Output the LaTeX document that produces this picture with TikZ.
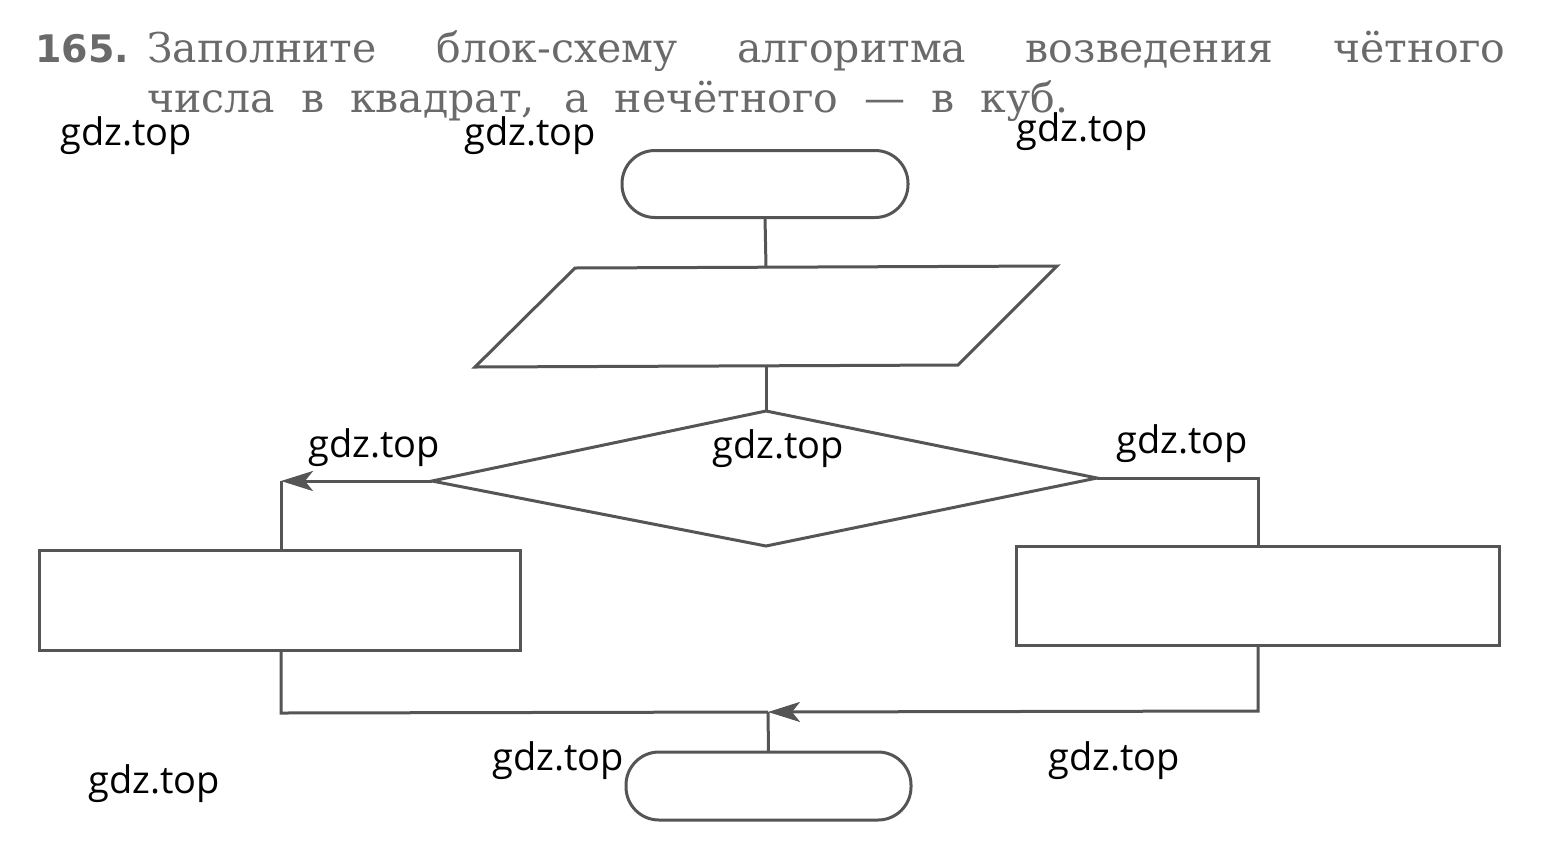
\documentclass[tikz,border=0pt]{standalone}
\usepackage{fontspec}
\setmainfont{DejaVu Serif}
\newfontfamily\wmfont{Open Sans}
\newfontfamily\numfont{DejaVu Sans}
\usetikzlibrary{arrows.meta}
\definecolor{ink}{HTML}{555555}
\definecolor{txt}{HTML}{6A6A6A}
\begin{document}
\begin{tikzpicture}[x=1pt,y=-1pt,
  ln/.style={draw=ink,line width=3pt},
  blk/.style={ln,rectangle,inner sep=0pt,outer sep=0pt},
  term/.style={blk,rounded corners=33pt},
  wm/.style={anchor=base west,inner sep=0pt,font=\wmfont\fontsize{38}{44}\selectfont},
  ttl/.style={anchor=base west,inner sep=0pt,text=txt,font=\fontsize{41}{48}\selectfont},
  arr/.style={ln,-{Stealth[length=32pt,width=20pt,inset=8pt]}}]
\useasboundingbox (0,0) rectangle (1554,847);
% title
\node[anchor=base west,inner sep=0pt,text=txt,font=\numfont\bfseries\fontsize{38}{44}\selectfont] (num) at (35,62) {165.};
\node[ttl] (l1) at (147,62) {\makebox[1358pt][s]{Заполните блок-схему алгоритма возведения чётного}};
\node[ttl] (l2) at (147,112) {\makebox[921pt][s]{числа в квадрат, а нечётного — в куб.}};
% start terminal
\node[term,minimum width=286pt,minimum height=67pt] (start) at (765,184) {};
% parallelogram
\coordinate (pA) at (575,268);
\coordinate (pB) at (1057,266);
\coordinate (pC) at (958,365);
\coordinate (pD) at (475,367);
\coordinate (pTop) at (766,267);
\coordinate (pBot) at (766,366);
\draw[ln] (pA) -- (pB) -- (pC) -- (pD) -- cycle;
\draw[ln] (start.south) -- (pTop);
% diamond
\coordinate (dT) at (766,411);
\coordinate (dL) at (432,481);
\coordinate (dB) at (766,546);
\coordinate (dR) at (1097,478);
\draw[ln] (dT) -- (dR) -- (dB) -- (dL) -- cycle;
\draw[ln] (pBot) -- (dT);
% boxes
\node[blk,minimum width=481pt,minimum height=100pt] (boxL) at (279.5,600) {};
\node[blk,minimum width=483pt,minimum height=99pt] (boxR) at (1257.5,595.5) {};
\coordinate (cL) at (281,481);
\coordinate (cR) at (1258,478);
\draw[arr] (dL) -- (cL);
\draw[ln] (cL) -- (cL |- boxL.north);
\draw[ln] (dR) -- (cR) -- (cR |- boxR.north);
% end
\node[term,minimum width=285pt,minimum height=68pt] (stop) at (768.5,786) {};
\coordinate (jL) at (281,713);
\coordinate (jR) at (1258,711);
\coordinate (m) at (768,712);
\draw[ln] (boxL.south -| jL) -- (jL) -- (m);
\draw[arr] (boxR.south -| jR) -- (jR) -- (m);
\draw[ln] (m) -- (stop.north);
% watermarks
\node[wm] (w1) at (60,145) {gdz.top};
\node[wm] (w2) at (464,145) {gdz.top};
\node[wm] (w3) at (1016,141) {gdz.top};
\node[wm] (w4) at (308,457) {gdz.top};
\node[wm] (w5) at (712,458) {gdz.top};
\node[wm] (w6) at (1116,453) {gdz.top};
\node[wm] (w7) at (88,793) {gdz.top};
\node[wm] (w8) at (492,770) {gdz.top};
\node[wm] (w9) at (1048,770) {gdz.top};
\end{tikzpicture}
\end{document}
